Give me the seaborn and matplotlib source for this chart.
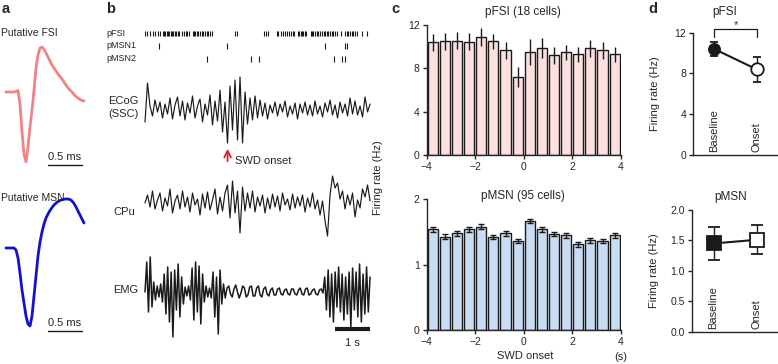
import matplotlib
matplotlib.use('Agg')
import numpy as np
import pandas as pd
import matplotlib.pyplot as plt
import seaborn as sns

# ---- data ----
# panel a: mean waveforms (arbitrary units, one sample every 0.5/17 ms)
fsi_wave = [0, 0, 0, 0, 0, 0.5, 1.5, -12, -40, -62, -70, -55, -35, -18, 2, 24, 37, 44, 45, 43,
            39, 35, 31, 27, 24, 21, 18, 15.5, 13, 10, 7, 4, 2, 0, -2.5, -4.5, -6, -7.5, -8.5, -9]
msn_wave = [0, 0, 0, 0, 0, -2, -10, -25, -42, -55, -68, -76, -78, -68, -48, -28, -8, 6, 16, 24,
            30, 34, 37.5, 40.5, 43, 45, 46.5, 47.5, 48.3, 48.8, 49, 49, 48.5, 47, 44.5, 41, 37, 33, 29, 25]

# panel b: spike times (s)
spikes_pfsi = [0.0, 0.07, 0.14, 0.24, 0.29, 0.38, 0.43, 0.50, 0.54, 0.58, 0.62, 0.66, 0.69, 0.73,
               0.77, 0.81, 0.85, 0.89, 0.93, 0.98, 1.05, 1.10, 1.16, 1.21, 1.27, 1.36, 1.40, 1.44,
               1.48, 1.52, 1.57, 1.62, 1.67, 1.71, 1.76, 1.81, 1.86, 1.92, 2.57, 2.62, 3.41, 3.46,
               3.50, 3.76, 3.81, 3.88, 3.93, 4.01, 4.05, 4.10, 4.16, 4.22, 4.26, 4.37, 4.41, 4.45,
               4.49, 4.52, 4.56, 4.60, 4.73, 4.77, 4.81, 4.86, 4.90, 4.95, 5.00, 5.05, 5.10, 5.14,
               5.19, 5.24, 5.29, 5.33, 5.38, 5.43, 5.48, 5.59, 5.71, 5.76, 5.81, 5.86, 5.90, 5.95,
               6.00, 6.07, 6.19, 6.33]
spikes_pmsn1 = [0.40, 2.35, 5.14, 5.70, 5.76]
spikes_pmsn2 = [1.76, 3.03, 3.26, 5.40, 5.64, 5.70]
swd_onset = 2.36

# panel b: traces (arbitrary units, positive up), spanning 0 - 6.43 s
ecog = [-12, 27, 4, -6, 10, -2, 8, -8, 6, -4, 12, -9, 5, 13, -6, 9, -10, 7, -3, 14, -8, 4, 11, -12,
        6, -5, 15, -15, 9, -11, 20, -22, 8,
        -33, 24, -20, 30, -30, 33, -33, 18, -14, 12, -10, 14, -8, 10,
        -6, 7, -9, 5, -3, 8, -6, 6, -2, 9, -7, 4, -4, 7, -9, 6, -3, 8, -5, 5, -6, 9, -4, 4, -7, 7,
        -2, 10, -5, 5, -8, 8, -3, 6, -6, 12, -4, 9, -5, 4, -7, 13, -2, 6]
cpu = [0, 8, -4, 12, -6, 3, 10, -8, 5, -3, 14, -10, 2, 8, -6, 12, -4, 6, -9, 10, -2, 4, -12, 9, -5,
       11, -7, 3, 14, -11, 6, -8, 10, 18, -15, 22, -10, 12, -30, 16, -8, 10, -5, 12, -9, 6, -3, 8,
       -10, 5, -6, 9, -4, 7, -8, 10, -2, 4, -7, 9, -5, 6, -3, 8, -9, 5, -4, 10, -6, 3, -12, 2, -18,
       -33, 8, 27, 15, 20, 4, 12, -6, 8, -2, 10, -14, 3, -5, 14, 6, 18, 2]
emg = [0, 30, -20, 35, -15, 10, -8, 6, -5, 8, -10, 18, -22, 25, -30, 20, -45, 22, -18, 28, -25, 15,
       -12, 5, -4, 6, -8, 24, -28, 30, -20, 26, -32, 18, -10, 6, -5, 4, -6, 20, -25, 15, -42, 22,
       -12, 8, -6, 4,
       6, -2, -5, 3, 7, 0, -6, -1, 6, 4, -5, -3, 5, 6, -4, -4, 4, 6, -3, -5, 3, 5, -2, -4, 2, 4,
       -3, -3, 3, 4, -2, -3, 2, 3, -2, -3, 3, 3, -2, -3, 2, 4, -2, -3, 3, 4, -3, -2, 2, 3, -2, -3,
       2, 3, -1,
       15, -18, 22, -25, 18, -30, 20, -15, 25, -20, 18, -28, 15, -22, 20, -35, 24, -18, 20, -25,
       28, -30, 18, -22, 25, -20, 15]

# panel c: peri-onset firing rate (Hz), 0.5 s bins
bin_centers = [-3.75, -3.25, -2.75, -2.25, -1.75, -1.25, -0.75, -0.25,
               0.25, 0.75, 1.25, 1.75, 2.25, 2.75, 3.25, 3.75]
fsi_rate = [10.4, 10.5, 10.55, 10.45, 10.9, 10.5, 9.65, 7.2, 9.55, 9.9, 9.2, 9.5, 9.3, 9.85, 9.65, 9.3]
fsi_err = [0.8, 0.8, 0.8, 0.8, 0.8, 0.7, 0.8, 0.95, 1.2, 0.9, 0.8, 0.7, 0.7, 0.8, 0.8, 0.7]
msn_rate = [1.54, 1.43, 1.48, 1.54, 1.58, 1.42, 1.48, 1.36, 1.67, 1.54, 1.47, 1.45, 1.31, 1.37, 1.36, 1.45]
msn_err = [0.035] * 16

# panel d: baseline vs onset
cond = ['Baseline', 'Onset']
fsi_mean = [10.4, 8.4]
fsi_sem = [0.7, 1.2]
msn_mean = [1.45, 1.51]
msn_sem = [0.27, 0.24]

# ---- figure ----
sns.set_theme(style='ticks')
plt.rcParams['font.family'] = ['Liberation Sans', 'DejaVu Sans']
plt.rcParams['axes.linewidth'] = 1.0

W, H = 778, 364
fig = plt.figure(figsize=(7.78, 3.64), dpi=100)


def px_axes(x0, y0, x1, y1):
    return fig.add_axes([x0 / W, 1 - y1 / H, (x1 - x0) / W, (y1 - y0) / H])


def ftext(x, y, s, **kw):
    kw.setdefault('fontsize', 8)
    kw.setdefault('ha', 'center')
    kw.setdefault('va', 'center')
    fig.text(x / W, 1 - y / H, s, **kw)


for lbl, x in [('a', 6), ('b', 111), ('c', 395), ('d', 653)]:
    ftext(x, 9, lbl, fontsize=10.5, fontweight='bold')

# ---- panel a ----
dt = 0.5 / 17
for wave, color, (y0, y1), base, title, ty in [
        (fsi_wave, '#F08484', (38, 172), 92, 'Putative FSI', 33),
        (msn_wave, '#1212D0', (190, 340), 248, 'Putative MSN', 198)]:
    ax = px_axes(0, y0, 95, y1)
    t = np.arange(len(wave)) * dt
    sns.lineplot(x=t, y=wave, color=color, lw=2.0, ax=ax, estimator=None)
    ax.set_xlim(-6 / 68, 89 / 68)
    ax.set_ylim(-(y1 - base), base - y0)
    ax.axis('off')
    ftext(1, ty, title, ha='left', fontsize=7.5)
for yb, yt in zip([165, 331], [157, 323]):
    fig.add_artist(plt.Line2D([48 / W, 82 / W], [1 - yb / H] * 2, color='k', lw=1.0))
    ftext(65, yt, '0.5 ms')

# ---- panel b ----
axb = px_axes(140, 22, 372, 350)
axb.set_xlim(-5 / 35, 227 / 35)
axb.set_ylim(-350, -22)
axb.axis('off')
for sp, (lo, hi), name in [(spikes_pfsi, (-36, -30.5), 'pFSI'),
                           (spikes_pmsn1, (-48.5, -43), 'pMSN1'),
                           (spikes_pmsn2, (-61.5, -56), 'pMSN2')]:
    axb.vlines(sp, lo, hi, color='k', lw=0.8)
    ftext(106, -(lo + hi) / 2, name, ha='left', fontsize=6.5)

for trace, off, lw in [(ecog, -110, 0.85), (cpu, -203, 0.85), (emg, -292, 1.1)]:
    t = np.linspace(0, 6.43, len(trace))
    axb.plot(t, np.array(trace) + off, color='k', lw=lw)

axb.annotate('', xy=(swd_onset, -146), xytext=(swd_onset, -164),
             arrowprops=dict(arrowstyle='->', color='#E0202A', lw=1.3))
axb.text(swd_onset + 0.2, -161, 'SWD onset', fontsize=8, va='center', ha='left')
axb.plot([5.43, 6.43], [-329, -329], color='k', lw=3, solid_capstyle='butt')
axb.text(5.93, -343, '1 s', fontsize=8, ha='center', va='center')
ftext(108, 101, 'ECoG', ha='left')
ftext(108, 114, '(SSC)', ha='left')
ftext(113, 212, 'CPu', ha='left')
ftext(113, 290, 'EMG', ha='left')

# ---- panel c ----
def style_axes(ax):
    sns.despine(ax=ax)
    ax.tick_params(direction='out', length=3, width=1, labelsize=7.5, pad=2)
    ax.set_xlabel('')
    ax.set_ylabel('')


for (y0, y1), rate, err, color, yl, yt, title, ty, cap in [
        ((25, 155), fsi_rate, fsi_err, '#FCE0E0', 12, [0, 4, 8, 12], 'pFSI (18 cells)', 12, 0),
        ((199.3, 330), msn_rate, msn_err, '#C8DCF4', 2, [0, 1, 2], 'pMSN (95 cells)', 196, 2)]:
    ax = px_axes(426.7, y0, 620.7, y1)
    df = pd.DataFrame({'t': bin_centers, 'rate': rate})
    sns.barplot(data=df, x='t', y='rate', native_scale=True, width=0.84, color=color,
                saturation=1, edgecolor='k', linewidth=1.0, errorbar=None, ax=ax)
    ax.errorbar(bin_centers, rate, yerr=err, fmt='none', ecolor='k', elinewidth=1.0,
                capsize=cap, capthick=1.0, zorder=5)
    ax.set_xlim(-4, 4)
    ax.set_ylim(0, yl)
    ax.set_xticks([-4, -2, 0, 2, 4])
    ax.set_xticklabels(['\u22124', '\u22122', '0', '2', '4'])
    ax.set_yticks(yt)
    style_axes(ax)
    ftext(523, ty, title, fontsize=8.5)
ftext(378, 178, 'Firing rate (Hz)', rotation=90)
ftext(525, 356, 'SWD onset')
ftext(621, 357, '(s)')

# ---- panel d ----
for (x0, y0, y1), mean, sem, marker, ms, yl, yt, ylab, title, tx, ty, cap in [
        ((693, 32.7, 155), fsi_mean, fsi_sem, 'o', [8, 9], 12, [0, 4, 8, 12],
         ['0', '4', '8', '12'], 'pFSI', 725, 12, 3),
        ((692, 210, 331.7), msn_mean, msn_sem, 's', [9.5, 9.5], 2, [0, 0.5, 1, 1.5, 2],
         ['0.0', '0.5', '1.0', '1.5', '2.0'], 'pMSN', 731, 197, 4)]:
    ax = px_axes(x0, y0, 778, y1)
    sns.lineplot(x=[0, 1], y=mean, color='k', lw=1.5, ax=ax, estimator=None, zorder=2)
    for i, fc in enumerate(['k', 'w']):
        ax.errorbar(i, mean[i], yerr=sem[i], fmt=marker, ms=ms[i], mfc=fc, mec='k', mew=1.3,
                    ecolor='k', elinewidth=1.0, capsize=cap, capthick=1.0, zorder=3, clip_on=False)
        ax.text(i, 0.025, cond[i], rotation=90, ha='center', va='bottom', fontsize=8,
                transform=ax.get_xaxis_transform())
    ax.set_xlim(-0.5, 1.5)
    ax.set_ylim(0, yl)
    ax.set_yticks(yt)
    ax.set_yticklabels(ylab)
    ax.set_xticks([])
    style_axes(ax)
    ftext(x0 - 38, (y0 + y1) / 2, 'Firing rate (Hz)', rotation=90)
    ftext(tx, ty, title, fontsize=8.5)
    if yl == 12:
        ax.plot([0, 0, 1, 1], [11.6, 12.4, 12.4, 11.6], color='k', lw=0.9, clip_on=False)
        ax.text(0.5, 12.75, '*', ha='center', va='center', fontsize=8)

fig.savefig('out.png', dpi=100)
